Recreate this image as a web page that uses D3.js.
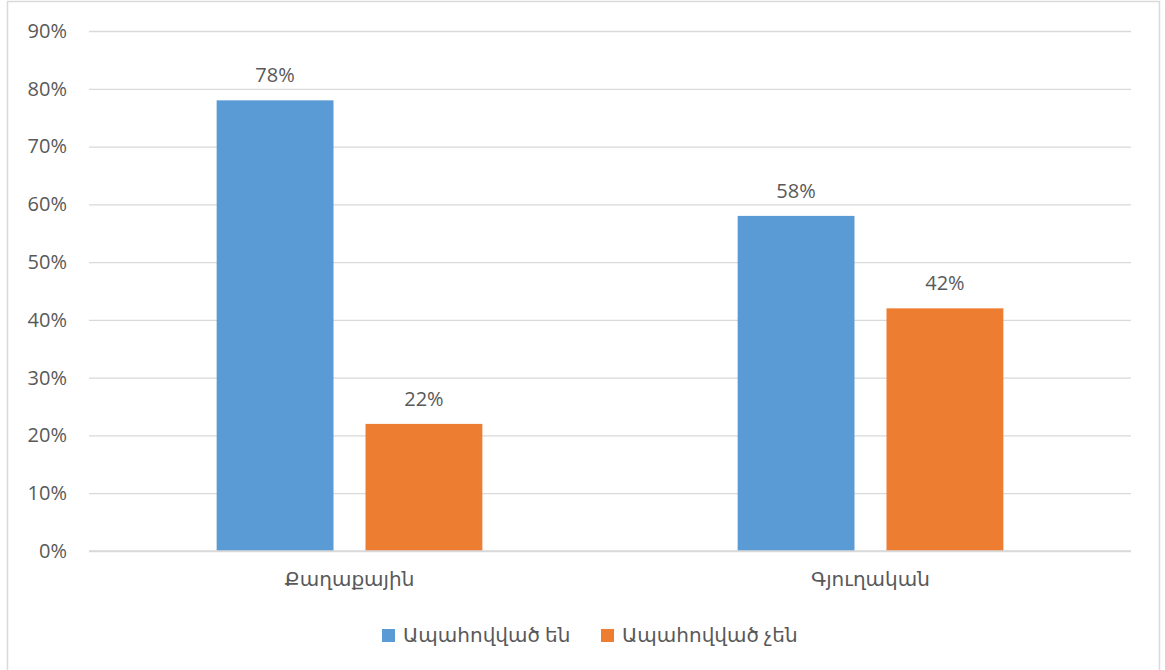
<!DOCTYPE html>
<html><head><meta charset="utf-8">
<script src="https://cdn.jsdelivr.net/npm/d3@7"></script>
<style>
html,body{margin:0;padding:0;background:#fff;}
text{font-family:"Open Sans","DejaVu Sans",sans-serif;fill:#595959;}
</style></head>
<body><svg id="c" width="1165" height="670"></svg>
<script>
const categories = ["Քաղաքային", "Գյուղական"];
const seriesNames = ["Ապահովված են", "Ապահովված չեն"];
const seriesA = [0.78, 0.58];
const seriesB = [0.22, 0.42];
const yTicks = [0,0.1,0.2,0.3,0.4,0.5,0.6,0.7,0.8,0.9];
const colors = ["#5B9BD5", "#ED7D31"];

const FS = 20;
const svg = d3.select("#c");
svg.append("rect").attr("x",7.5).attr("y",1.5).attr("width",1152).attr("height",672)
  .attr("fill","#fff").attr("stroke","#D9D9D9").attr("stroke-width",1.5);

const m = {l:89, r:1131, t:31, b:551};
const x0 = d3.scaleBand().domain(categories).range([m.l, m.r]).paddingInner(0).paddingOuter(0);
const y = d3.scaleLinear().domain([0,0.9]).range([m.b, m.t]);
const groupW = x0.bandwidth()*0.51;
const x1 = d3.scaleBand().domain(seriesNames).range([0, groupW]).paddingInner(0.215);

const yAxis = d3.axisLeft(y).tickValues(yTicks).tickFormat(d3.format(".0%")).tickSize(-(m.r-m.l)).tickPadding(22);
const gy = svg.append("g").attr("transform",`translate(${m.l},0)`).call(yAxis);
gy.select(".domain").remove();
gy.selectAll(".tick line").attr("stroke","#D9D9D9").attr("stroke-width",1.3);
gy.selectAll(".tick text").attr("font-size",FS).attr("font-family",null).style("fill","#595959");

const data = categories.map((c,i)=>({cat:c, vals:[seriesA[i], seriesB[i]]}));
const groups = svg.selectAll("g.grp").data(data).enter().append("g")
  .attr("transform", d=>`translate(${x0(d.cat)+(x0.bandwidth()-groupW)/2},0)`);
groups.selectAll("rect").data(d=>d.vals.map((v,j)=>({v, s:seriesNames[j], j})))
  .enter().append("rect")
  .attr("x", d=>x1(d.s)).attr("width", x1.bandwidth())
  .attr("y", d=>y(d.v)).attr("height", d=>y(0)-y(d.v))
  .attr("fill", d=>colors[d.j]);
groups.selectAll("text.lbl").data(d=>d.vals.map((v,j)=>({v, s:seriesNames[j], j})))
  .enter().append("text").attr("class","lbl")
  .attr("x", d=>x1(d.s)+x1.bandwidth()/2).attr("y", d=>y(d.v)-18)
  .attr("text-anchor","middle").attr("font-size",FS)
  .text(d=>d3.format(".0%")(d.v));

svg.append("line").attr("x1",m.l).attr("x2",m.r).attr("y1",y(0)).attr("y2",y(0))
  .attr("stroke","#D9D9D9").attr("stroke-width",1.3);

const xAxis = d3.axisBottom(x0).tickSize(0).tickPadding(21);
const gx = svg.append("g").attr("transform",`translate(0,${m.b})`).call(xAxis);
gx.select(".domain").remove();
gx.selectAll(".tick text").attr("font-size",FS).attr("font-family",null).style("fill","#595959");

const leg = svg.append("g");
const legX = [382, 601];
seriesNames.forEach((s,i)=>{
  leg.append("rect").attr("x",legX[i]).attr("y",629).attr("width",13).attr("height",13).attr("fill",colors[i]);
  leg.append("text").attr("x",legX[i]+21).attr("y",642).attr("font-size",FS).text(s);
});
</script></body></html>
